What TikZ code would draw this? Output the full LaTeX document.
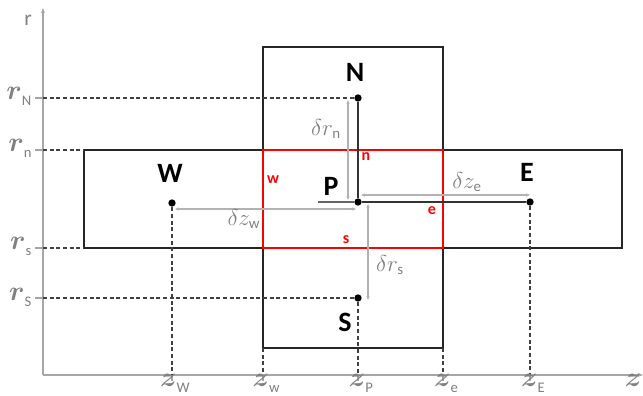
\documentclass[tikz,border=0pt]{standalone}
\usepackage{xcolor}
\usepackage{amsmath}
\usepackage{fontspec}
\setmainfont{Carlito}
\usetikzlibrary{arrows.meta}

% axis label with a small upright index
\newcommand{\axsub}[2]{$#1$\raisebox{-5pt}{\fontsize{11}{11}\selectfont #2}}

\begin{document}
\begin{tikzpicture}[x=0.75pt, y=-0.75pt, thick,
    box/.style={draw=black!85, line width=1pt},
    face/.style={draw=red, line width=1pt},
    axis/.style={draw=black!35, line width=1.5pt},
    tick/.style={draw=black!35, line width=1pt},
    guide/.style={draw=black!75, line width=0.8pt, dash pattern=on 3pt off 2pt},
    link/.style={draw=black!80, line width=1pt},
    dim/.style={draw=black!30, line width=0.8pt, {Stealth[length=3pt,width=2.5pt]}-{Stealth[length=3pt,width=2.5pt]}},
    dot/.style={circle, fill=black, inner sep=0pt, minimum size=5.5pt},
    bigname/.style={font=\fontsize{21}{21}\selectfont\bfseries},
    facename/.style={text=red, font=\fontsize{12}{12}\selectfont\bfseries},
    axlab/.style={text=black!50, font=\fontsize{21}{21}\selectfont\mathversion{bold}, inner sep=0pt},
    dimlab/.style={text=black!50, font=\fontsize{16}{16}\selectfont, inner sep=0pt}]
    \useasboundingbox (0,0) rectangle (643,396);

    % Axes
    \coordinate (O) at (43,375);
    \coordinate (rtop) at (43,8);
    \coordinate (zend) at (643,375);
    \draw[axis, -{Stealth[length=4pt,width=3pt]}] (O) -- (rtop);
    \draw[axis, -{Stealth[length=4pt,width=3pt]}] (O) -- (zend);
    \node[text=black!50, font=\fontsize{16}{16}\selectfont] (raxis) at (28,20) {r};
    \node[axlab, anchor=base east] (zaxis) at (642,386) {$z$};

    % Cells
    \draw[box] (84,150) rectangle (622,248);
    \draw[box] (263,47) rectangle (443,348);
    \draw[face] (263,150) rectangle (443,248);

    % Nodes
    \node[dot] (N) at (358,98) {};
    \node[dot] (P) at (358,202) {};
    \node[dot] (S) at (358,298) {};
    \node[dot] (W) at (172,203) {};
    \node[dot] (E) at (530,202) {};
    \node[bigname] (Nlab) at (355,72) {N};
    \node[bigname] (Plab) at (331,186) {P};
    \node[bigname] (Slab) at (345,322) {S};
    \node[bigname] (Wlab) at (170,173) {W};
    \node[bigname] (Elab) at (527,172) {E};
    \node[facename] (nlab) at (366,157) {n};
    \node[facename] (wlab) at (273,180) {w};
    \node[facename] (elab) at (432,211) {e};
    \node[facename] (slab) at (346,240) {s};

    % Links between nodes
    \coordinate (Pw) at (318,202);
    \draw[link] (N) -- (P);
    \draw[link] (P) -- (E);
    \draw[link, black!60] (Pw) -- (P);

    % Guides to the axes
    \coordinate (rN) at (43,98);
    \coordinate (rn) at (43,150);
    \coordinate (rs) at (43,248);
    \coordinate (rS) at (43,298);
    \coordinate (zW) at (172,375);
    \coordinate (zw) at (263,375);
    \coordinate (zP) at (358,375);
    \coordinate (ze) at (443,375);
    \coordinate (zE) at (530,375);
    \draw[guide] (rN) -- (N);
    \draw[guide] (rn) -- (84,150);
    \draw[guide] (rs) -- (84,248);
    \draw[guide] (rS) -- (S);
    \draw[guide] (W) -- (zW);
    \draw[guide] (S) -- (zP);
    \draw[guide] (E) -- (zE);
    \draw[guide] (263,348) -- (zw);
    \draw[guide] (443,348) -- (ze);
    \foreach \c in {rN,rn,rs,rS} \draw[tick] (\c) -- ++(-8,0);
    \foreach \c in {zW,zw,zP,ze,zE} \draw[tick] (\c) -- ++(0,6);

    % Axis labels
    \node[axlab, anchor=base east] (lrN) at (32,99) {\axsub{r}{N}};
    \node[axlab, anchor=base east] (lrn) at (32,151) {\axsub{r}{n}};
    \node[axlab, anchor=base east] (lrs) at (32,249) {\axsub{r}{s}};
    \node[axlab, anchor=base east] (lrS) at (32,300) {\axsub{r}{S}};
    \node[axlab, anchor=base] (lzW) at (175,386) {\axsub{z}{W}};
    \node[axlab, anchor=base] (lzw) at (266,386) {\axsub{z}{w}};
    \node[axlab, anchor=base] (lzP) at (361,386) {\axsub{z}{P}};
    \node[axlab, anchor=base] (lze) at (446,386) {\axsub{z}{e}};
    \node[axlab, anchor=base] (lzE) at (533,386) {\axsub{z}{E}};

    % Distances
    \coordinate (dn1) at (348,100);
    \coordinate (dn2) at (348,200);
    \coordinate (ds1) at (368,204);
    \coordinate (ds2) at (368,300);
    \coordinate (de1) at (361,195);
    \coordinate (de2) at (530,195);
    \coordinate (dw1) at (175,209);
    \coordinate (dw2) at (356,209);
    \draw[dim] (dn1) -- (dn2);
    \draw[dim] (ds1) -- (ds2);
    \draw[dim] (de1) -- (de2);
    \draw[dim] (dw1) -- (dw2);
    \node[dimlab] (ldn) at (326,129) {$\delta r_{\text{n}}$};
    \node[dimlab] (lds) at (390,265) {$\delta r_{\text{s}}$};
    \node[dimlab] (lde) at (467,182) {$\delta z_{\text{e}}$};
    \node[dimlab] (ldw) at (244,219) {$\delta z_{\text{w}}$};
\end{tikzpicture}
\end{document}
